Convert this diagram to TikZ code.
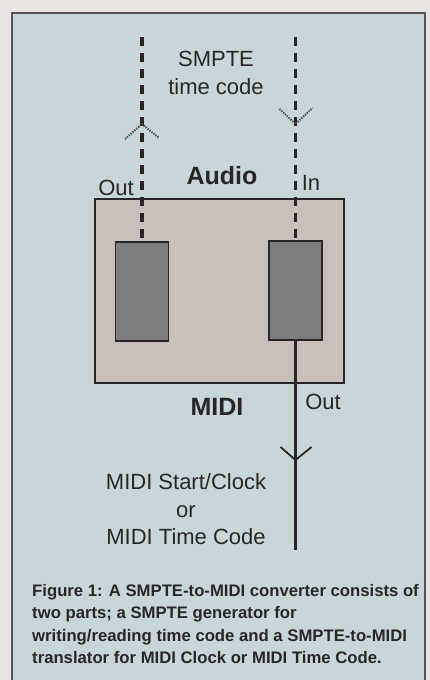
\documentclass[tikz,border=0pt]{standalone}
\usepackage{fontspec}
\setmainfont{Liberation Sans}
\definecolor{pagegray}{RGB}{232, 228, 226}
\definecolor{panelblue}{RGB}{200, 214, 218}
\definecolor{boxbeige}{RGB}{201, 191, 186}
\definecolor{gengray}{RGB}{125, 125, 125}
\definecolor{inkdark}{RGB}{40, 38, 40}
\definecolor{framegray}{RGB}{90, 80, 88}
\usetikzlibrary{arrows.meta, positioning, calc}

\begin{document}
\begin{tikzpicture}[x=1pt, y=-1pt,
    lbl/.style={font=\fontsize{22}{27.5}\selectfont, text=inkdark, inner sep=0, align=center},
    hdr/.style={font=\bfseries\fontsize{25}{30}\selectfont, text=inkdark, inner sep=0},
    gen/.style={draw=inkdark, line width=1.3pt, fill=gengray, minimum width=53pt, minimum height=99pt, inner sep=0},
    sig/.style={line width=3.2pt, inkdark, dash pattern=on 9pt off 7pt},
    dothead/.style={line width=2pt, inkdark!85, dash pattern=on 1.3pt off 1.2pt},
    wire/.style={line width=3pt, inkdark},
    caption/.style={font=\bfseries\fontsize{16.7}{22.5}\selectfont, text=inkdark, inner sep=0, align=left}]
      \useasboundingbox (0,0) rectangle (430,680);
      \fill[pagegray] (0,0) rectangle (430,680);
      \draw[framegray, line width=1.5pt, fill=panelblue] (12,13) rectangle (425,700);
      \node[draw=inkdark, line width=1.3pt, fill=boxbeige, minimum width=249pt, minimum height=184pt, inner sep=0] (conv) at (219.5,291) {};
      \node[gen] (genL) at (142,291.5) {};
      \node[gen] (genR) at (295.5,290.5) {};
      \coordinate (outTop) at (142,37);
      \coordinate (inTop) at (295.5,37);
      \coordinate (outTip) at (142,124);
      \coordinate (inTip) at (295.5,124);
      \coordinate (midiTip) at (295.5,460);
      \coordinate (midiEnd) at (295.5,550);
      \draw[sig] (outTop) -- (genL.north);
      \draw[sig] (inTop) -- (genR.north);
      \draw[dothead] ($(outTip)+(-17,15)$) -- (outTip) -- ($(outTip)+(17,14)$);
      \draw[dothead] ($(inTip)+(-16,-15)$) -- (inTip) -- ($(inTip)+(17,-16)$);
      \draw[wire] (genR.south) -- (midiEnd);
      \draw[line width=1.8pt, inkdark] ($(midiTip)+(-15,-13)$) -- (midiTip) -- ($(midiTip)+(16,-13)$);
      \node[lbl] (smpte) at (216,73) {SMPTE\\time code};
      \node[hdr] (audio) at (222,176) {Audio};
      \node[lbl] (audioOut) at (116,188) {Out};
      \node[lbl] (audioIn) at (311,183) {In};
      \node[hdr] (midi) at (217,407) {MIDI};
      \node[lbl] (midiOut) at (323,402) {Out};
      \node[lbl] (dest) at (186,509.5) {MIDI Start/Clock\\or\\MIDI Time Code};
      \node[caption, anchor=north west] (cap) at (32,584) {Figure 1: A SMPTE-to-MIDI converter consists of\\two parts; a SMPTE generator for\\writing/reading time code and a SMPTE-to-MIDI\\translator for MIDI Clock or MIDI Time Code.};
\end{tikzpicture}
\end{document}
